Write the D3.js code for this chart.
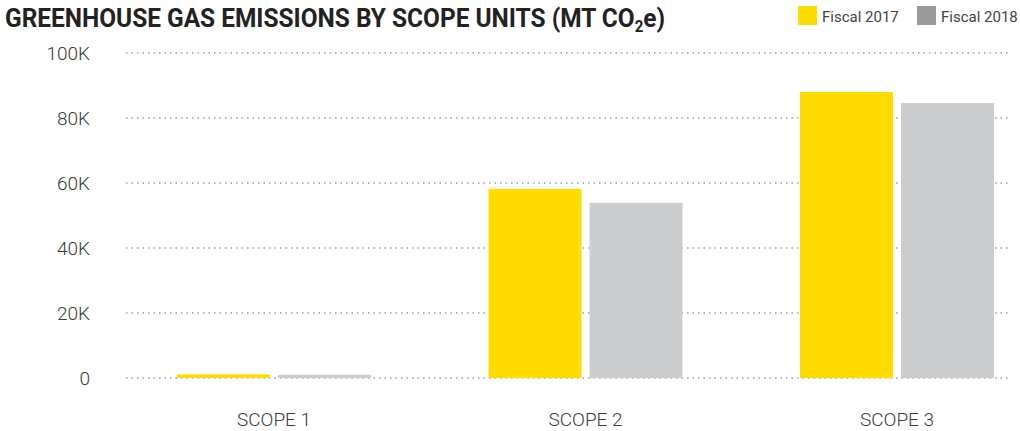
<!DOCTYPE html>
<html>
<head>
<meta charset="utf-8">
<script src="https://cdn.jsdelivr.net/npm/d3@7"></script>
<style>
  body { margin: 0; background: #fff; }
  text { font-family: Roboto, "DejaVu Sans", sans-serif; }
</style>
</head>
<body>
<div id="chart"></div>
<script>
const categories = ['SCOPE 1', 'SCOPE 2', 'SCOPE 3'];
const seriesNames = ['Fiscal 2017', 'Fiscal 2018'];
const fiscal2017 = [1100, 58200, 88000];
const fiscal2018 = [1000, 53900, 84600];
const yTicks = [0, 20000, 40000, 60000, 80000, 100000];
const yTickLabels = ['0', '20K', '40K', '60K', '80K', '100K'];

const width = 1020;
const height = 431;
const margin = { top: 53, right: 10, bottom: 53, left: 126 };
const colors = ['#fedc00', '#cccdcf'];
const legendColors = ['#fedc00', '#9a999e'];

const svg = d3.select('#chart')
    .append('svg')
    .attr('width', width)
    .attr('height', height);

const y = d3.scaleLinear()
    .domain([0, 100000])
    .range([height - margin.bottom, margin.top]);

const x0 = d3.scalePoint()
    .domain(categories)
    .range([274, 897]);

const x1 = d3.scaleBand()
    .domain(seriesNames)
    .range([-97, 97])
    .paddingInner(0.08);

// dotted grid
svg.selectAll('.grid')
    .data(yTicks)
    .enter().append('line')
    .attr('x1', margin.left)
    .attr('x2', width - margin.right)
    .attr('y1', d => y(d))
    .attr('y2', d => y(d))
    .attr('stroke', '#9d9d9d')
    .attr('stroke-width', 1.5)
    .attr('stroke-dasharray', '1.5,4');

svg.selectAll('.ytick')
    .data(yTicks)
    .enter().append('text')
    .attr('x', 90)
    .attr('y', d => y(d))
    .attr('dy', '0.35em')
    .attr('text-anchor', 'end')
    .attr('font-size', 19)
    .attr('font-weight', 300)
    .attr('fill', '#3a3a3a')
    .text((d, i) => yTickLabels[i]);

const rows = categories.map((c, i) => ({ cat: c, values: [fiscal2017[i], fiscal2018[i]] }));

const group = svg.selectAll('.group')
    .data(rows)
    .enter().append('g')
    .attr('transform', d => `translate(${x0(d.cat)},0)`);

group.selectAll('rect')
    .data(d => d.values.map((v, i) => ({ key: seriesNames[i], value: v, i })))
    .enter().append('rect')
    .attr('x', d => x1(d.key))
    .attr('width', x1.bandwidth())
    .attr('y', d => y(d.value))
    .attr('height', d => y(0) - y(d.value))
    .attr('fill', d => colors[d.i]);

group.append('text')
    .attr('x', 0)
    .attr('y', 426)
    .attr('text-anchor', 'middle')
    .attr('font-size', 19)
    .attr('font-weight', 300)
    .attr('fill', '#3a3a3a')
    .text(d => d.cat);

// title (condensed look via horizontal squeeze)
const title = svg.append('text')
    .attr('transform', 'translate(5,27) scale(0.94,1)')
    .attr('font-size', 26)
    .attr('font-weight', 700)
    .attr('fill', '#222');
title.append('tspan').text('GREENHOUSE GAS EMISSIONS BY SCOPE UNITS (MT CO');
title.append('tspan').attr('font-size', 16).attr('dy', 5).text('2');
title.append('tspan').attr('dy', -5).text('e)');

// legend
const legend = svg.selectAll('.legend')
    .data(seriesNames)
    .enter().append('g')
    .attr('transform', (d, i) => `translate(${798 + i * 119},6)`);

legend.append('rect')
    .attr('width', 19)
    .attr('height', 19)
    .attr('fill', (d, i) => legendColors[i]);

legend.append('text')
    .attr('x', 24)
    .attr('y', 16)
    .attr('font-size', 15)
    .attr('fill', '#444')
    .text(d => d);
</script>
</body>
</html>
